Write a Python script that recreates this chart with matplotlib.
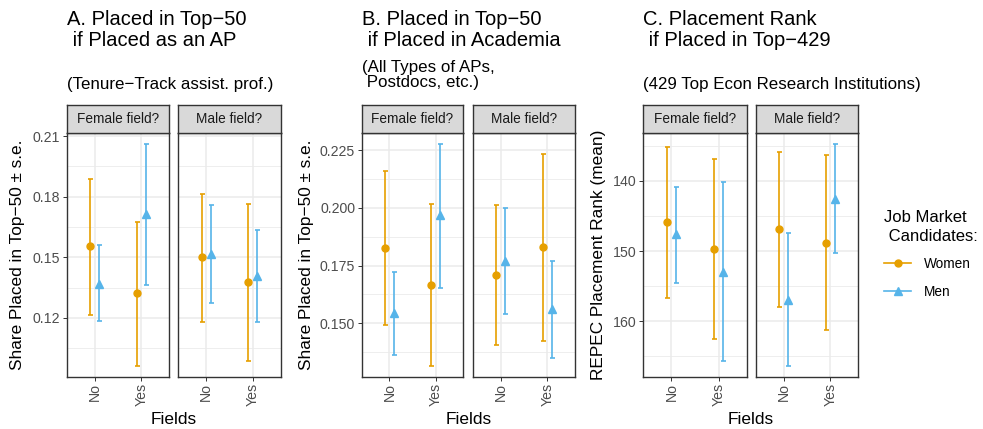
import numpy as np
import matplotlib
matplotlib.use("Agg")
import matplotlib.pyplot as plt
from matplotlib.patches import Rectangle
from matplotlib.lines import Line2D

plt.rcParams['font.family'] = ['Liberation Sans', 'DejaVu Sans']

W, H = 983, 429

# order of groups: (Female field, No), (Female field, Yes), (Male field, No), (Male field, Yes)
facets = ['Female field?', 'Male field?']
fields = ['No', 'Yes']

# A. Placed in Top-50 if placed as an AP
women_mean_a = [0.1554, 0.1321, 0.1500, 0.1379]
women_lo_a = [0.1215, 0.0964, 0.1180, 0.0988]
women_hi_a = [0.1890, 0.1677, 0.1815, 0.1764]
men_mean_a = [0.1370, 0.1713, 0.1515, 0.1410]
men_lo_a = [0.1185, 0.1361, 0.1275, 0.1180]
men_hi_a = [0.1559, 0.2062, 0.1760, 0.1633]

# B. Placed in Top-50 if placed in academia
women_mean_b = [0.1826, 0.1665, 0.1710, 0.1830]
women_lo_b = [0.1494, 0.1317, 0.1408, 0.1424]
women_hi_b = [0.2158, 0.2017, 0.2010, 0.2234]
men_mean_b = [0.1543, 0.1967, 0.1769, 0.1560]
men_lo_b = [0.1364, 0.1651, 0.1540, 0.1349]
men_hi_b = [0.1720, 0.2277, 0.1997, 0.1771]

# C. Placement rank if placed in top-429
women_mean_c = [145.85, 149.7, 146.9, 148.8]
women_lo_c = [135.1, 136.8, 135.9, 136.3]
women_hi_c = [156.7, 162.5, 158.0, 161.2]
men_mean_c = [147.6, 152.9, 156.9, 142.5]
men_lo_c = [140.85, 140.2, 147.4, 134.7]
men_hi_c = [154.5, 165.6, 166.3, 150.3]

yticks_a = [0.12, 0.15, 0.18, 0.21]
yticks_b = [0.150, 0.175, 0.200, 0.225]
yticks_c = [140, 150, 160]

C_WOMEN = '#E69F00'
C_MEN = '#56B4E9'
GRID = '#EBEBEB'
DARK = '#333333'

FS_TITLE = 14.5
FS_SUB = 12.2
FS_AXIS = 12.4
FS_TICK = 10.2
FS_STRIP = 9.8

fig = plt.figure(figsize=(W / 100, H / 100), dpi=100)


def px_axes(x0, y0, x1, y1):
    return fig.add_axes([x0 / W, 1 - y1 / H, (x1 - x0) / W, (y1 - y0) / H])


def draw_panel(xlefts, panel, yticks, fmt, reverse=False):
    (wm, wl, wh, mm, ml, mh) = panel
    allv = wl + wh + mm + ml + mh + wm
    lo, hi = min(allv), max(allv)
    pad = 0.05 * (hi - lo)
    minors = [(a + b) / 2 for a, b in zip(yticks[:-1], yticks[1:])]
    step = yticks[1] - yticks[0]
    minors = [yticks[0] - step / 2] + minors + [yticks[-1] + step / 2]
    for k, (x0, x1) in enumerate(xlefts):
        ax = px_axes(x0, 132.7, x1, 376.7)
        for yv in minors:
            ax.axhline(yv, color=GRID, lw=0.6, zorder=0)
        for yv in yticks:
            ax.axhline(yv, color=GRID, lw=1.1, zorder=0)
        for xv in [1, 2]:
            ax.axvline(xv, color=GRID, lw=1.1, zorder=0)
        x = np.array([1, 2])
        idx = [2 * k, 2 * k + 1]
        w_m = np.array([wm[i] for i in idx])
        m_m = np.array([mm[i] for i in idx])
        w_err = [w_m - np.array([wl[i] for i in idx]), np.array([wh[i] for i in idx]) - w_m]
        m_err = [m_m - np.array([ml[i] for i in idx]), np.array([mh[i] for i in idx]) - m_m]
        ax.errorbar(x - 0.1, w_m, yerr=w_err, fmt='o', color=C_WOMEN, ms=5,
                    elinewidth=1.2, capsize=1.8, capthick=1.2, ls='none')
        ax.errorbar(x + 0.1, m_m, yerr=m_err, fmt='^', color=C_MEN, ms=5.5,
                    elinewidth=1.2, capsize=1.8, capthick=1.2, ls='none')
        ax.set_xlim(0.4, 2.6)
        if reverse:
            ax.set_ylim(hi + pad, lo - pad)
        else:
            ax.set_ylim(lo - pad, hi + pad)
        ax.set_xticks([1, 2])
        ax.set_xticklabels(fields, rotation=90, fontsize=FS_TICK, color='#4D4D4D')
        ax.set_yticks(yticks)
        if k == 0:
            ax.set_yticklabels([fmt.format(v) for v in yticks], fontsize=FS_TICK, color='#4D4D4D')
        else:
            ax.tick_params(axis='y', left=False, labelleft=False)
        ax.tick_params(length=2.8, width=0.7, color=DARK, pad=2)
        for s in ax.spines.values():
            s.set_color(DARK)
            s.set_linewidth(1.0)
        # strip
        strip = px_axes(x0, 105, x1, 132.7)
        strip.add_patch(Rectangle((0, 0), 1, 1, transform=strip.transAxes,
                                  facecolor='#D9D9D9', edgecolor='none'))
        strip.set_xticks([])
        strip.set_yticks([])
        for s in strip.spines.values():
            s.set_color(DARK)
            s.set_linewidth(1.0)
        strip.text(0.5, 0.5, facets[k], ha='center', va='center', fontsize=FS_STRIP,
                   color='#1A1A1A', transform=strip.transAxes)


def ftext(x, y, s, **kw):
    fig.text(x / W, 1 - y / H, s, **kw)


# Panel A
draw_panel([(66.7, 169.3), (178.3, 280.7)],
           (women_mean_a, women_lo_a, women_hi_a, men_mean_a, men_lo_a, men_hi_a),
           yticks_a, '{:.2f}')
ftext(66.7, 10, 'A. Placed in Top\u221250\n if Placed as an AP', fontsize=FS_TITLE,
      va='top', ha='left', linespacing=1.1)
ftext(66.7, 77, '(Tenure\u2212Track assist. prof.)', fontsize=FS_SUB, va='top', ha='left')
ftext(18, 254.7, 'Share Placed in Top\u221250 \u00b1 s.e.', fontsize=FS_AXIS, rotation=90,
      ha='center', va='center')
ftext(173.7, 419, 'Fields', fontsize=FS_AXIS, ha='center', va='center')

# Panel B
draw_panel([(361.7, 463.3), (472.7, 575.3)],
           (women_mean_b, women_lo_b, women_hi_b, men_mean_b, men_lo_b, men_hi_b),
           yticks_b, '{:.3f}')
ftext(361.7, 10, 'B. Placed in Top\u221250\n if Placed in Academia', fontsize=FS_TITLE,
      va='top', ha='left', linespacing=1.1)
ftext(361.7, 60, '(All Types of APs,\n Postdocs, etc.)', fontsize=FS_SUB, va='top', ha='left',
      linespacing=1.0)
ftext(307, 254.7, 'Share Placed in Top\u221250 \u00b1 s.e.', fontsize=FS_AXIS, rotation=90,
      ha='center', va='center')
ftext(468.5, 419, 'Fields', fontsize=FS_AXIS, ha='center', va='center')

# Panel C
draw_panel([(643.3, 746.7), (755.7, 858.3)],
           (women_mean_c, women_lo_c, women_hi_c, men_mean_c, men_lo_c, men_hi_c),
           yticks_c, '{:d}', reverse=True)
ftext(643.3, 10, 'C. Placement Rank\n if Placed in Top\u2212429', fontsize=FS_TITLE,
      va='top', ha='left', linespacing=1.1)
ftext(643.3, 77, '(429 Top Econ Research Institutions)', fontsize=FS_SUB, va='top', ha='left')
ftext(598, 254.7, 'REPEC Placement Rank (mean)', fontsize=FS_AXIS, rotation=90,
      ha='center', va='center')
ftext(750.8, 419, 'Fields', fontsize=FS_AXIS, ha='center', va='center')

# legend
keys = [Line2D([], [], color=C_WOMEN, marker='o', ms=5, lw=1.2),
        Line2D([], [], color=C_MEN, marker='^', ms=5.5, lw=1.2)]
leg = fig.legend(keys, ['Women', 'Men'], loc='upper left',
                 bbox_to_anchor=(884 / W, 1 - 210 / H), frameon=False,
                 borderpad=0, borderaxespad=0,
                 title='Job Market\n Candidates:', title_fontsize=12.0, fontsize=FS_STRIP,
                 handlelength=2.0, handletextpad=0.9, labelspacing=1.0)
leg.get_title().set_linespacing(1.3)
leg._legend_box.align = 'left'

fig.savefig('out.png', dpi=100)
